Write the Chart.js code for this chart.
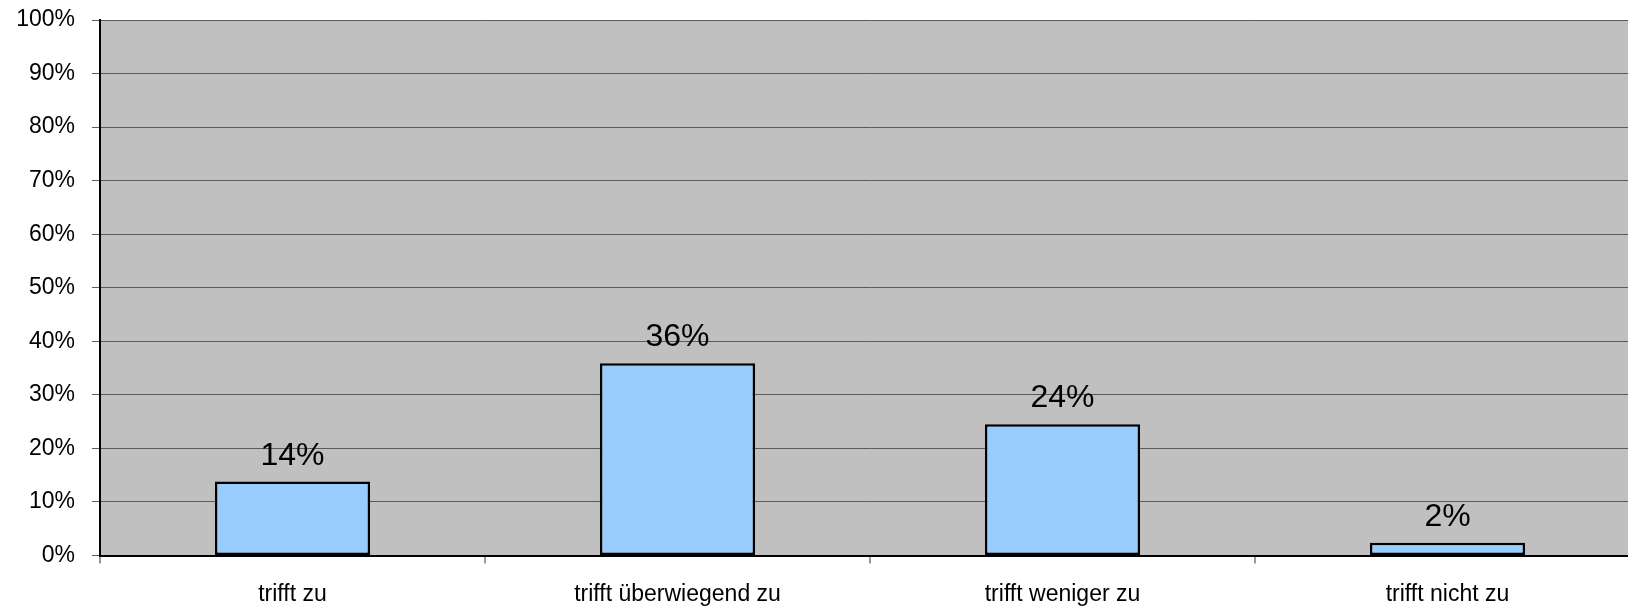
<!DOCTYPE html>
<html>
<head>
<meta charset="utf-8">
<script src="https://cdn.jsdelivr.net/npm/chart.js@4/dist/chart.umd.min.js"></script>
<style>
  html, body { margin: 0; padding: 0; background: #ffffff; overflow: hidden; }
  #wrap { width: 1640px; height: 606px; }
</style>
</head>
<body>
<div id="wrap"><canvas id="chart"></canvas></div>
<script>
// data
var categories = ["trifft zu", "trifft überwiegend zu", "trifft weniger zu", "trifft nicht zu"];
var values = [13.8, 35.9, 24.5, 2.4];
var valueLabels = ["14%", "36%", "24%", "2%"];

// grey plot background
var plotBackground = {
    id: "plotBackground",
    beforeDraw: function (chart) {
        var a = chart.chartArea;
        var ctx = chart.ctx;
        ctx.save();
        ctx.fillStyle = "#C0C0C0";
        ctx.fillRect(a.left, a.top, a.right - a.left, a.bottom - a.top);
        ctx.restore();
    }
};

// value labels above the bars
var barLabels = {
    id: "barLabels",
    afterDatasetsDraw: function (chart) {
        var ctx = chart.ctx;
        var meta = chart.getDatasetMeta(0);
        ctx.save();
        ctx.font = "32px 'Liberation Sans', Arial, sans-serif";
        ctx.fillStyle = "#000000";
        ctx.textAlign = "center";
        ctx.textBaseline = "alphabetic";
        meta.data.forEach(function (bar, i) {
            ctx.fillText(valueLabels[i], bar.x, bar.y - 17);
        });
        ctx.restore();
    }
};

new Chart(document.getElementById("chart"), {
    type: "bar",
    data: {
        labels: categories,
        datasets: [{
            data: values,
            backgroundColor: "#99CCFF",
            borderColor: "#000000",
            borderWidth: 2.5,
            borderSkipped: false,
            barPercentage: 0.403,
            categoryPercentage: 1.0
        }]
    },
    options: {
        responsive: true,
        maintainAspectRatio: false,
        animation: false,
        layout: { padding: { top: 20, right: 0, left: 0, bottom: 0 } },
        plugins: {
            legend: { display: false },
            tooltip: { enabled: false }
        },
        scales: {
            x: {
                grid: {
                    offset: true,
                    drawOnChartArea: false,
                    drawTicks: true,
                    tickLength: 8,
                    tickColor: "#999999",
                    lineWidth: 2
                },
                border: { color: "#000000", width: 2 },
                ticks: {
                    color: "#000000",
                    padding: 17,
                    font: { family: "'Liberation Sans', Arial, sans-serif", size: 23 },
                    maxRotation: 0
                },
                afterFit: function (scale) {
                    scale.height = 50.5;
                    scale.paddingLeft = 0;
                    scale.paddingRight = 0;
                }
            },
            y: {
                min: 0,
                max: 100,
                ticks: {
                    stepSize: 10,
                    color: "#000000",
                    padding: 17,
                    font: { family: "'Liberation Sans', Arial, sans-serif", size: 23 },
                    callback: function (v) { return v + "%"; }
                },
                grid: {
                    color: "#5a5a5a",
                    lineWidth: 1,
                    tickLength: 8,
                    tickColor: "#5a5a5a"
                },
                border: { color: "#000000", width: 2 },
                afterFit: function (scale) {
                    scale.width = 100;
                    scale.paddingTop = 0;
                    scale.paddingBottom = 0;
                }
            }
        }
    },
    plugins: [plotBackground, barLabels]
});
</script>
</body>
</html>
